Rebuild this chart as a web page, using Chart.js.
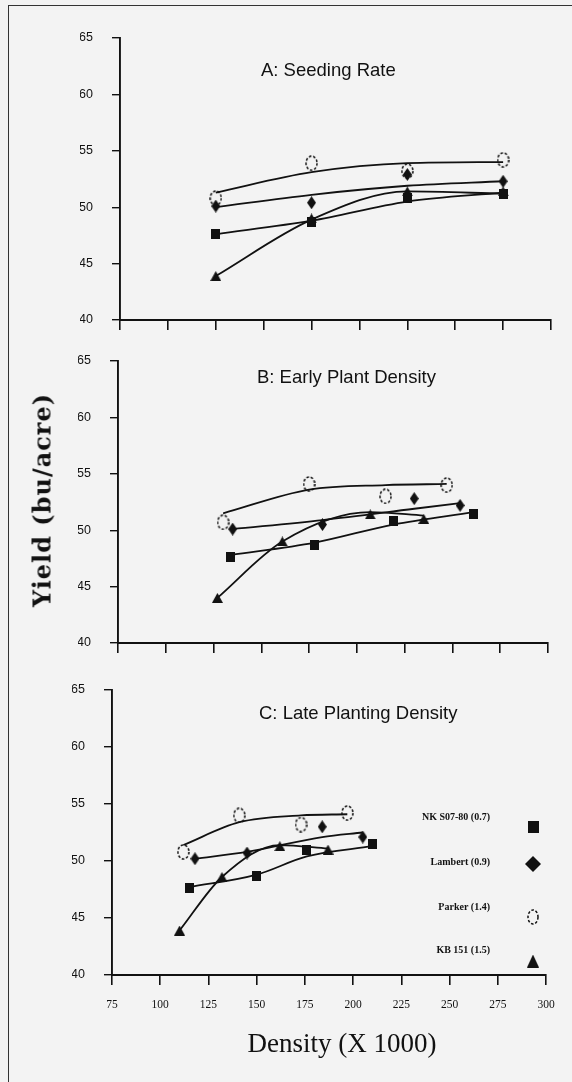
<!DOCTYPE html>
<html>
<head>
<meta charset="utf-8">
<script src="https://cdn.jsdelivr.net/npm/chart.js@4/dist/chart.umd.min.js"></script>
<style>
  html, body { margin:0; padding:0; background:#f3f3f3; width:572px; height:1082px; overflow:hidden; }
  canvas { position:absolute; left:0; top:0; pointer-events:none; }
  .frame-top { position:absolute; left:8px; top:5px; width:564px; height:0; border-top:1.6px solid #333; }
  .frame-left { position:absolute; left:8px; top:5px; width:0; height:1077px; border-left:1.6px solid #333; }
  .ptitle { position:absolute; font-family:"Liberation Sans", Arial, sans-serif; font-size:18.5px; color:#111; white-space:nowrap; transform:translateY(-50%); }
  .ylab { position:absolute; left:42px; top:500px; font-family:"DejaVu Serif", serif; font-weight:bold; font-size:24px; letter-spacing:1px; color:#111; white-space:nowrap; transform:translate(-50%,-50%) rotate(-90deg); }
  .xlab { position:absolute; left:342px; top:1043px; font-family:"Liberation Serif", serif; font-size:27px; color:#111; white-space:nowrap; transform:translate(-50%,-50%); }
</style>
</head>
<body>
<div class="frame-top"></div>
<div class="frame-left"></div>
<canvas id="cA" width="572" height="1082"></canvas>
<canvas id="cB" width="572" height="1082"></canvas>
<canvas id="cC" width="572" height="1082"></canvas>
<div class="ptitle" id="tA" style="left:261px; top:70px;"></div>
<div class="ptitle" id="tB" style="left:257px; top:377px;"></div>
<div class="ptitle" id="tC" style="left:259px; top:713px;"></div>
<div class="ylab" id="ylab"></div>
<div class="xlab" id="xlab"></div>
<script>
// ---------- data ----------
const seriesNames = ["NK S07-80 (0.7)", "Lambert (0.9)", "Parker (1.4)", "KB 151 (1.5)"];
const panelTitles = ["A: Seeding Rate", "B: Early Plant Density", "C: Late Planting Density"];
const yAxisTitle = "Yield (bu/acre)";
const xAxisTitle = "Density (X 1000)";
const xTicks = [75, 100, 125, 150, 175, 200, 225, 250, 275, 300];
const yTicks = [40, 45, 50, 55, 60, 65];

// Panel A: Seeding Rate
const aX = [125, 175, 225, 275];
const aNK = [47.6, 48.7, 50.8, 51.2];
const aNKFit = [47.6, 48.8, 50.5, 51.3];
const aLambert = [50.1, 50.4, 52.9, 52.3];
const aLambertFit = [50.0, 51.1, 51.9, 52.3];
const aParker = [50.8, 53.9, 53.2, 54.2];
const aParkerFit = [51.3, 53.1, 53.9, 54.0];
const aKB = [43.9, 49.0, 51.4, 51.4];
const aKBFit = [43.9, 48.9, 51.4, 51.2];

// Panel B: Early Plant Density
const bNKX = [134, 178, 219, 261];
const bNK = [47.6, 48.7, 50.8, 51.4];
const bNKFit = [47.8, 48.9, 50.5, 51.6];
const bLambertX = [135, 182, 230, 254];
const bLambert = [50.1, 50.5, 52.8, 52.2];
const bLambertFit = [50.1, 50.9, 51.9, 52.4];
const bParkerX = [130, 175, 215, 247];
const bParker = [50.7, 54.1, 53.0, 54.0];
const bParkerFit = [51.5, 53.6, 54.0, 54.1];
const bKBX = [127, 161, 207, 235];
const bKB = [44.0, 49.0, 51.4, 51.0];
const bKBFit = [44.0, 49.0, 51.6, 51.3];

// Panel C: Late Planting Density
const cNKX = [115, 150, 176, 210];
const cNK = [47.6, 48.7, 51.0, 51.5];
const cNKFit = [47.7, 48.8, 50.4, 51.3];
const cLambertX = [118, 145, 184, 205];
const cLambert = [50.2, 50.7, 53.0, 52.1];
const cLambertFit = [50.2, 50.8, 52.1, 52.5];
const cParkerX = [112, 141, 173, 197];
const cParker = [50.8, 54.0, 53.2, 54.2];
const cParkerFit = [51.4, 53.4, 54.0, 54.1];
const cKBX = [110, 132, 162, 187];
const cKB = [43.9, 48.6, 51.3, 51.0];
const cKBFit = [43.9, 48.6, 51.4, 51.1];

// ---------- markers ----------
function mk(w, h, draw) {
  const c = document.createElement('canvas');
  c.width = w; c.height = h;
  const g = c.getContext('2d');
  g.fillStyle = '#111'; g.strokeStyle = '#111';
  draw(g, w, h);
  return c;
}
function square(w, h) { return mk(w, h, (g) => g.fillRect(0, 0, w, h)); }
function diamond(w, h) { return mk(w, h, (g) => { g.beginPath(); g.moveTo(w/2,0); g.lineTo(w,h/2); g.lineTo(w/2,h); g.lineTo(0,h/2); g.closePath(); g.fill(); }); }
function triangle(w, h) { return mk(w, h, (g) => { g.beginPath(); g.moveTo(w/2,0); g.lineTo(w,h); g.lineTo(0,h); g.closePath(); g.fill(); }); }
function circleD(w, h) { return mk(w, h, (g) => { g.lineWidth = 1.5; g.setLineDash([2.6, 1.8]); g.beginPath(); g.ellipse(w/2, h/2, w/2-1, h/2-1, 0, 0, Math.PI*2); g.stroke(); }); }

const markers = [square(9, 10), diamond(9, 13), circleD(13, 16), triangle(11, 10)];
const legendMarkers = [square(11, 12), diamond(16, 16), circleD(12, 16), triangle(12, 13)];

// ---------- helpers ----------
function pts(xs, ys) { return xs.map((x, i) => ({ x: x, y: ys[i] })); }

function makePanel(id, area, series, showXLabels, extraPlugins) {
  const W = 572, H = 1082, yW = 40, xH = 34;
  const datasets = [];
  series.forEach((s) => {
    datasets.push({
      data: pts(s.x, s.fit), showLine: true, pointRadius: 0, borderColor: '#111', borderWidth: 1.8,
      cubicInterpolationMode: 'monotone', fill: false, order: 2
    });
  });
  series.forEach((s, i) => {
    datasets.push({
      data: pts(s.x, s.y), showLine: false, pointStyle: markers[i], pointRadius: 6, order: 1
    });
  });
  return new Chart(document.getElementById(id), {
    type: 'scatter',
    data: { datasets: datasets },
    plugins: extraPlugins || [],
    options: {
      responsive: false, animation: false, events: [],
      layout: { padding: { left: area.l - yW, right: W - area.r, top: area.t, bottom: H - area.b - xH } },
      plugins: { legend: { display: false }, tooltip: { enabled: false } },
      scales: {
        x: {
          type: 'linear', min: 75, max: 300,
          afterFit: (sc) => { sc.height = xH; },
          afterBuildTicks: (sc) => { sc.ticks = xTicks.map(v => ({ value: v })); },
          grid: { drawOnChartArea: false, drawTicks: true, tickLength: 10, color: '#111', lineWidth: 1.6 },
          border: { display: true, color: '#111', width: 1.9 },
          ticks: {
            autoSkip: false, maxRotation: 0, padding: 13, color: '#111',
            font: { family: 'Liberation Serif', size: 11.5 },
            callback: (v) => showXLabels ? String(v) : ''
          }
        },
        y: {
          type: 'linear', min: 40, max: 65,
          afterFit: (sc) => { sc.width = yW; },
          afterBuildTicks: (sc) => { sc.ticks = yTicks.map(v => ({ value: v })); },
          grid: { drawOnChartArea: false, drawTicks: true, tickLength: 8, color: '#111', lineWidth: 1.4 },
          border: { display: true, color: '#111', width: 1.9 },
          ticks: { padding: 19, color: '#111', font: { family: 'Liberation Sans', size: 12.5 } }
        }
      }
    }
  });
}

const legendPlugin = {
  id: 'customLegend',
  afterDraw(chart) {
    const ctx = chart.ctx;
    const textY = [817, 862, 907, 950];
    const markY = [827, 864, 917, 961];
    ctx.save();
    ctx.fillStyle = '#111';
    ctx.font = 'bold 10px "Liberation Serif"';
    ctx.textAlign = 'right';
    ctx.textBaseline = 'middle';
    seriesNames.forEach((n, i) => {
      ctx.fillText(n, 490, textY[i]);
      const m = legendMarkers[i];
      ctx.drawImage(m, 533 - m.width/2, markY[i] - m.height/2);
    });
    ctx.restore();
  }
};

makePanel('cA', { l: 120, r: 551, t: 38, b: 320 }, [
  { x: aX, y: aNK, fit: aNKFit },
  { x: aX, y: aLambert, fit: aLambertFit },
  { x: aX, y: aParker, fit: aParkerFit },
  { x: aX, y: aKB, fit: aKBFit }
], false);

makePanel('cB', { l: 118, r: 548, t: 361, b: 643 }, [
  { x: bNKX, y: bNK, fit: bNKFit },
  { x: bLambertX, y: bLambert, fit: bLambertFit },
  { x: bParkerX, y: bParker, fit: bParkerFit },
  { x: bKBX, y: bKB, fit: bKBFit }
], false);

makePanel('cC', { l: 112, r: 546, t: 690, b: 975 }, [
  { x: cNKX, y: cNK, fit: cNKFit },
  { x: cLambertX, y: cLambert, fit: cLambertFit },
  { x: cParkerX, y: cParker, fit: cParkerFit },
  { x: cKBX, y: cKB, fit: cKBFit }
], true, [legendPlugin]);

document.getElementById('tA').textContent = panelTitles[0];
document.getElementById('tB').textContent = panelTitles[1];
document.getElementById('tC').textContent = panelTitles[2];
document.getElementById('ylab').textContent = yAxisTitle;
document.getElementById('xlab').textContent = xAxisTitle;
</script>
</body>
</html>
